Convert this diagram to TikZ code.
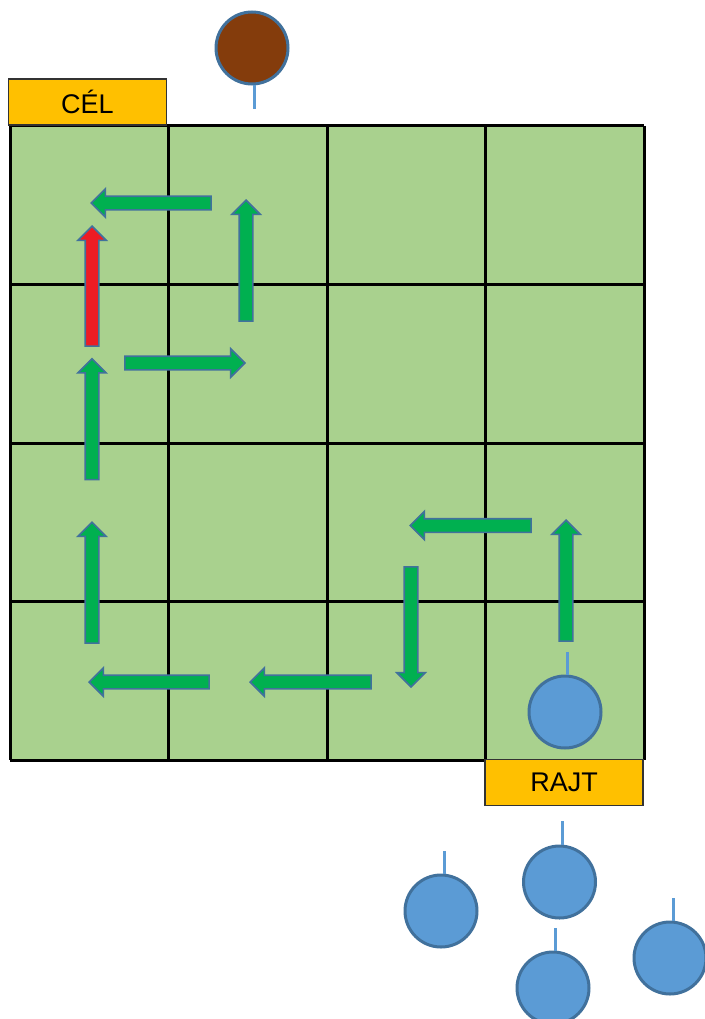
\documentclass[tikz,border=0pt]{standalone}
\usepackage{fontspec}
\setmainfont{Liberation Sans}
\usetikzlibrary{shapes.arrows}
\definecolor{cellgreen}{HTML}{A9D18E}
\definecolor{labelgold}{HTML}{FFC000}
\definecolor{arrowgreen}{HTML}{00B050}
\definecolor{arrowred}{HTML}{ED1C24}
\definecolor{edgeblue}{HTML}{41719C}
\definecolor{ballblue}{HTML}{5B9BD5}
\definecolor{ballbrown}{HTML}{843C0C}
\tikzset{
  labelbox/.style={rectangle, draw=black!80, line width=1.2pt, fill=labelgold, minimum width=158pt, minimum height=46pt, inner sep=0pt, font=\fontsize{27}{30}\selectfont},
  blockarrow/.style={single arrow, draw=edgeblue, line width=1.6pt, fill=arrowgreen, inner sep=6pt, single arrow head extend=7.5pt, single arrow tip angle=90, minimum width=27pt, anchor=tip},
  redarrow/.style={blockarrow, fill=arrowred},
  ball/.style={circle, draw=edgeblue, line width=3pt, fill=ballblue, minimum size=72pt, inner sep=0pt},
  stem/.style={draw=ballblue, line width=3pt},
  gridline/.style={line width=3pt, black}
}
\begin{document}
\begin{tikzpicture}[x=1pt,y=-1pt]
\useasboundingbox (0,0) rectangle (704,1019);
% board
\fill[cellgreen] (10,126) rectangle (644,760);
\foreach \xx in {10,168.5,327,485.5,644} \draw[gridline] (\xx,126) -- (\xx,760);
\foreach \yy in {126,284.5,443,601.5,760} \draw[gridline] (10,\yy) -- (644,\yy);
% labels
\node[labelbox] (cel) at (87.5,102) {CÉL};
\node[labelbox] (rajt) at (564,782.5) {RAJT};
% arrows, placed by their tips
\node[blockarrow, minimum height=120pt, shape border rotate=180] (a1) at (90,203) {};
\node[blockarrow, minimum height=121pt, shape border rotate=90] (a2) at (246,199) {};
\node[redarrow, minimum height=120pt, shape border rotate=90] (a3) at (92,225) {};
\node[blockarrow, minimum height=120pt, shape border rotate=0] (a4) at (246,363) {};
\node[blockarrow, minimum height=121pt, shape border rotate=90] (a5) at (92,357.5) {};
\node[blockarrow, minimum height=121pt, shape border rotate=90] (a6) at (92,521) {};
\node[blockarrow, minimum height=120pt, shape border rotate=180] (a7) at (88,682) {};
\node[blockarrow, minimum height=121pt, shape border rotate=180] (a8) at (249,682) {};
\node[blockarrow, minimum height=120pt, shape border rotate=270] (a9) at (411,688) {};
\node[blockarrow, minimum height=121pt, shape border rotate=180] (a10) at (409,525.5) {};
\node[blockarrow, minimum height=121pt, shape border rotate=90] (a11) at (566,519) {};
% balls
\node[ball, fill=ballbrown] (goalball) at (252,48) {};
\coordinate (goalstem) at (254,109);
\draw[stem] (goalball.south -| goalstem) -- (goalstem);
\node[ball] (b0) at (565,712) {};
\coordinate (s0) at (567,652);
\draw[stem] (s0) -- (b0.north -| s0);
\node[ball] (b1) at (441,911) {};
\coordinate (s1) at (444.5,851);
\draw[stem] (s1) -- (b1.north -| s1);
\node[ball] (b2) at (559.5,882) {};
\coordinate (s2) at (562,821);
\draw[stem] (s2) -- (b2.north -| s2);
\node[ball] (b3) at (553,988) {};
\coordinate (s3) at (555.5,928);
\draw[stem] (s3) -- (b3.north -| s3);
\node[ball] (b4) at (670,958) {};
\coordinate (s4) at (673,898);
\draw[stem] (s4) -- (b4.north -| s4);
\end{tikzpicture}
\end{document}
